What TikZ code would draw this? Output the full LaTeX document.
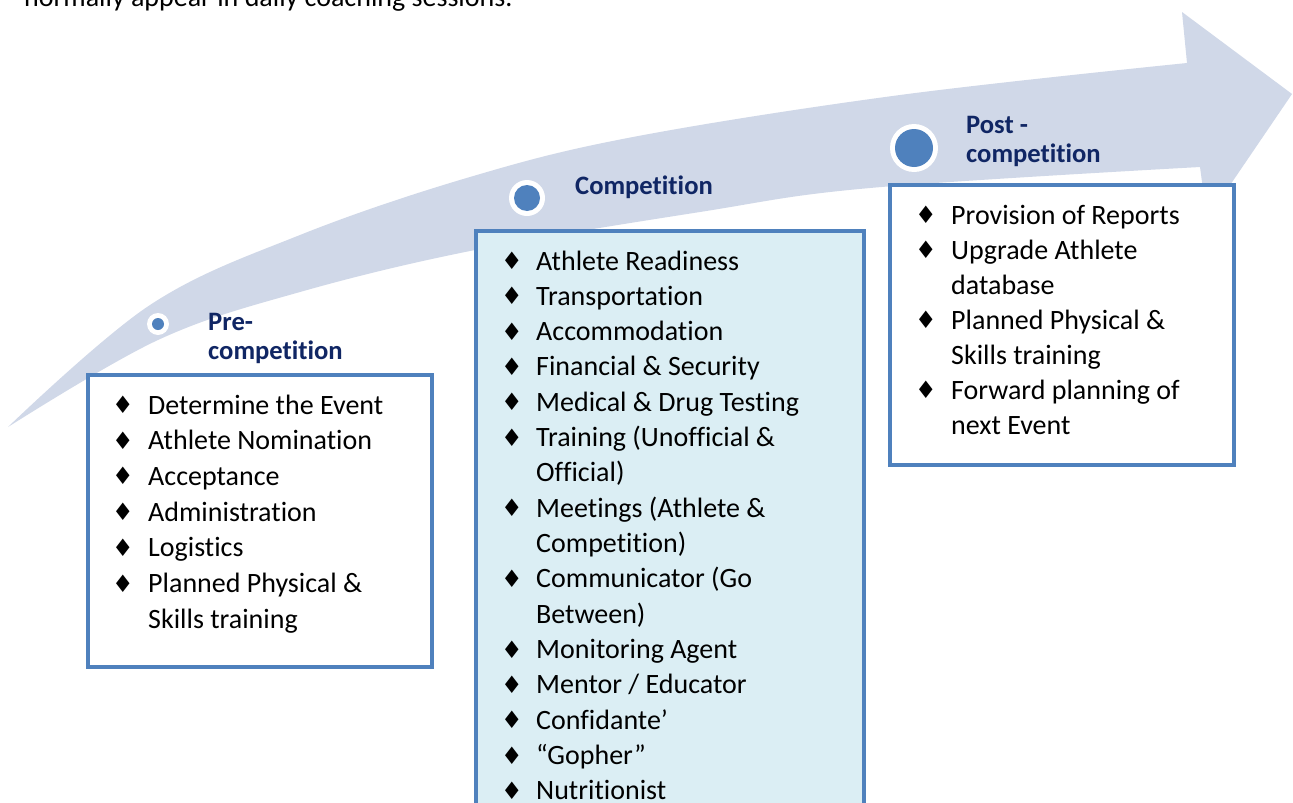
\documentclass[tikz,border=0pt]{standalone}
\usepackage{fontspec}
\setmainfont[Ligatures=NoCommon]{Carlito}
\newfontfamily\dejavu{DejaVu Sans}
\definecolor{arrowfill}{RGB}{208,216,232}
\definecolor{boxline}{RGB}{79,129,189}
\definecolor{compfill}{RGB}{219,238,244}
\definecolor{headcol}{RGB}{16,38,100}
\definecolor{dotcol}{RGB}{79,129,189}
\newlength\bw
\newcommand\bul{{\dejavu\fontsize{24}{24}\selectfont\raisebox{0.5pt}{♦}}}
\newcommand\itm[1]{\makebox[\bw][l]{\bul}#1}
\newcommand\cont{\hspace*{\bw}}
\tikzset{
  boxframe/.style={draw=boxline,line width=4pt,line join=miter},
  headtext/.style={anchor=base west,inner sep=0pt,text=headcol,font=\bfseries\fontsize{26.6}{29}\selectfont},
  listtext/.style={anchor=base west,inner sep=0pt},
}
\begin{document}
\begin{tikzpicture}[x=1pt,y=-1pt]
\useasboundingbox (0,0) rectangle (1293,803);
\clip (0,0) rectangle (1293,803);
\fill[white] (0,0) rectangle (1293,803);

% top text (cut off)
\node[anchor=base west,inner sep=0pt,font=\fontsize{28}{34}\selectfont] (toptext) at (24,6) {normally appear in daily coaching sessions.};

% curved arrow
\fill[arrowfill]
  plot[smooth,tension=0.6] coordinates {(8,427) (150,305) (300,235) (470,177) (633,137) (900,95) (1187,63)}
  -- (1182,12) -- (1292,94) -- (1207,219) -- (1200,167)
  -- plot[smooth,tension=0.6] coordinates {(1200,167) (870,188) (700,212) (475,250) (300,292) (158,340) (8,427)}
  -- cycle;

% boxes
\draw[boxframe,fill=white] (87.5,375) rectangle (431.5,667);
\draw[boxframe,fill=compfill] (475.5,230.5) rectangle (864,830);
\draw[boxframe,fill=white] (889.5,184.5) rectangle (1233.5,465);

% circles
\fill[white] (158,324) circle (11pt);
\fill[dotcol] (158,324) circle (6pt);
\fill[white] (527,198) circle (18pt);
\fill[dotcol] (527,198) circle (13pt);
\fill[white] (914,148) circle (24pt);
\fill[dotcol] (914,148) circle (19pt);

% headings
\node[headtext] (prehead) at (208,330) {\parbox[t]{200pt}{Pre-\\competition}};
\node[headtext] (comphead) at (575,194) {Competition};
\node[headtext] (posthead) at (966,133) {\parbox[t]{200pt}{Post -\\competition}};

% lists
\node[listtext] (prelist) at (112,414) {\parbox[t]{320pt}{\fontsize{28}{35.7}\selectfont\setlength\bw{36pt}%
\itm{Determine the Event}\\
\itm{Athlete Nomination}\\
\itm{Acceptance}\\
\itm{Administration}\\
\itm{Logistics}\\
\itm{Planned Physical \&}\\
\cont Skills training}};

\node[listtext] (complist) at (501,270) {\parbox[t]{360pt}{\fontsize{28}{35.33}\selectfont\setlength\bw{35pt}%
\itm{Athlete Readiness}\\
\itm{Transportation}\\
\itm{Accommodation}\\
\itm{Financial \& Security}\\
\itm{Medical \& Drug Testing}\\
\itm{Training (Unofficial \&}\\
\cont Official)\\
\itm{Meetings (Athlete \&}\\
\cont Competition)\\
\itm{Communicator (Go}\\
\cont Between)\\
\itm{Monitoring Agent}\\
\itm{Mentor / Educator}\\
\itm{Confidante’}\\
\itm{“Gopher”}\\
\itm{Nutritionist}}};

\node[listtext] (postlist) at (915,224) {\parbox[t]{320pt}{\fontsize{28}{35}\selectfont\setlength\bw{36pt}%
\itm{Provision of Reports}\\
\itm{Upgrade Athlete}\\
\cont database\\
\itm{Planned Physical \&}\\
\cont Skills training\\
\itm{Forward planning of}\\
\cont next Event}};
\end{tikzpicture}
\end{document}
